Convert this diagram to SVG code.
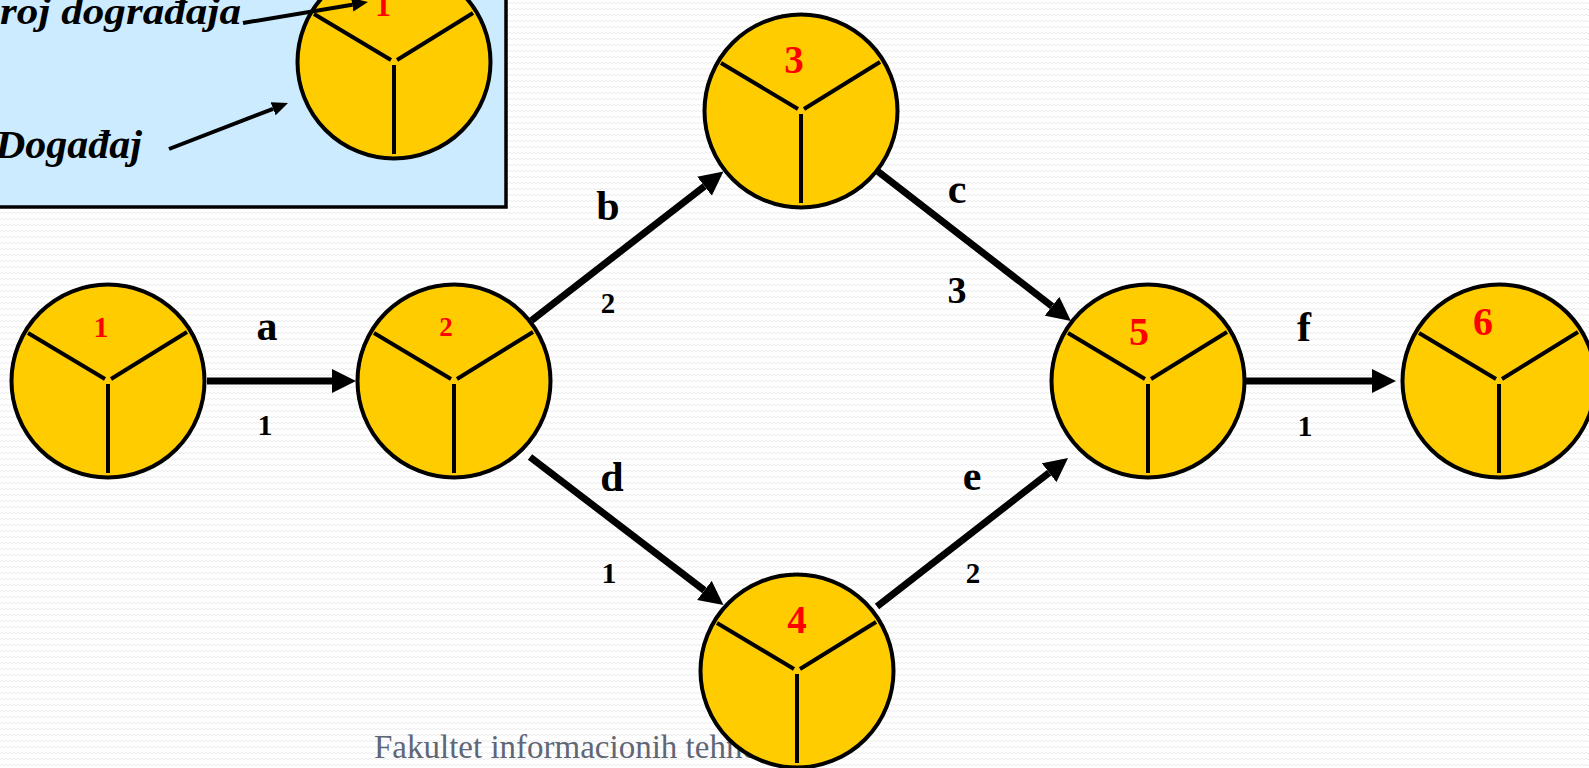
<svg xmlns="http://www.w3.org/2000/svg" width="1589" height="768" viewBox="0 0 1589 768">
  <defs>
    <!-- faint zigzag paper texture -->
    <pattern id="zigzag" width="8" height="6" patternUnits="userSpaceOnUse">
      <rect width="8" height="6" fill="#FFFFFF"/>
      <path d="M0,4 L2,2 L4,4 L6,2 L8,4" fill="none" stroke="#ECECEC" stroke-width="1"/>
    </pattern>
    <marker id="head" viewBox="0 0 24 24" refX="0" refY="12" markerWidth="24" markerHeight="24" markerUnits="userSpaceOnUse" orient="auto">
      <path d="M0,0 L24,12 L0,24 Z" fill="#000"/>
    </marker>
    <marker id="headSmall" viewBox="0 0 16 14" refX="0" refY="7" markerWidth="16" markerHeight="14" markerUnits="userSpaceOnUse" orient="auto">
      <path d="M0,0 L16,7 L0,14 Z" fill="#000"/>
    </marker>
    <!-- event circle with its three dividing spokes -->
    <g id="event">
      <circle cx="0" cy="0" r="96.5" fill="#FFCC00" stroke="#000" stroke-width="4"/>
      <path d="M-3,-2 L-80,-48 M3,-2 L79,-49 M0,3 L0,92" stroke="#000" stroke-width="4" fill="none"/>
    </g>
  </defs>
  <style>
    .conn { stroke: #000; stroke-width: 7; fill: none; marker-end: url(#head); }
    .legendArrow { stroke: #000; stroke-width: 4; fill: none; marker-end: url(#headSmall); }
    .num { font-family: "Liberation Serif", "DejaVu Serif", serif; font-weight: bold; fill: #FF0000; text-anchor: middle; }
    .lbl { font-family: "Liberation Serif", "DejaVu Serif", serif; font-weight: bold; fill: #000; text-anchor: middle; }
    .legendText { font-family: "Liberation Serif", "DejaVu Serif", serif; font-weight: bold; font-style: italic; fill: #000; }
    .footer { font-family: "Liberation Serif", "DejaVu Serif", serif; fill: #5F6675; }
  </style>

  <rect x="0" y="0" width="1589" height="768" fill="url(#zigzag)"/>

  <!-- footer line, partly hidden behind event 4 -->
  <text class="footer" x="374" y="758" font-size="33">Fakultet informacionih tehnologija</text>

  <!-- legend -->
  <g id="legend">
    <rect x="-10" y="-10" width="516" height="217" fill="#CCEBFF" stroke="#000" stroke-width="3.5"/>
    <use href="#event" x="394" y="62"/>
    <text class="num" x="383" y="16" font-size="32">1</text>
    <text class="legendText" x="0" y="24" font-size="37" textLength="241" lengthAdjust="spacingAndGlyphs">roj dograđaja</text>
    <text class="legendText" x="-5" y="158" font-size="40" textLength="147" lengthAdjust="spacingAndGlyphs">Događaj</text>
    <line class="legendArrow" x1="243" y1="23" x2="352.2" y2="4.7"/>
    <line class="legendArrow" x1="169" y1="149" x2="273.1" y2="108.8"/>
  </g>

  <!-- activities -->
  <g id="connectors">
    <line class="conn" x1="207" y1="381" x2="332" y2="381"/>
    <line class="conn" x1="531.5" y1="320.5" x2="704.5" y2="186.2"/>
    <line class="conn" x1="878" y1="171.5" x2="1052" y2="306.3"/>
    <line class="conn" x1="530" y1="457" x2="704.4" y2="590.4"/>
    <line class="conn" x1="877" y1="606.5" x2="1049.1" y2="472.7"/>
    <line class="conn" x1="1246" y1="381" x2="1372" y2="381"/>

    <text class="lbl" x="267" y="340" font-size="42">a</text>
    <text class="lbl" x="265" y="435" font-size="30">1</text>
    <text class="lbl" x="608" y="220" font-size="42">b</text>
    <text class="lbl" x="608" y="313" font-size="29">2</text>
    <text class="lbl" x="957" y="303" font-size="38">3</text>
    <text class="lbl" x="957" y="203" font-size="42">c</text>
    <text class="lbl" x="612" y="491" font-size="42">d</text>
    <text class="lbl" x="609" y="583" font-size="30">1</text>
    <text class="lbl" x="972" y="490" font-size="42">e</text>
    <text class="lbl" x="973" y="583" font-size="29">2</text>
    <text class="lbl" x="1304" y="341" font-size="42">f</text>
    <text class="lbl" x="1305" y="436" font-size="30">1</text>
  </g>

  <!-- events -->
  <g id="node1">
    <use href="#event" x="108" y="381"/>
    <text class="num" x="101" y="337" font-size="30">1</text>
  </g>
  <g id="node2">
    <use href="#event" x="454" y="381"/>
    <text class="num" x="446" y="336" font-size="27">2</text>
  </g>
  <g id="node3">
    <use href="#event" x="801" y="111"/>
    <text class="num" x="794" y="73" font-size="39">3</text>
  </g>
  <g id="node4">
    <use href="#event" x="797" y="671"/>
    <text class="num" x="797" y="633" font-size="39">4</text>
  </g>
  <g id="node5">
    <use href="#event" x="1148" y="381"/>
    <text class="num" x="1139" y="345" font-size="40">5</text>
  </g>
  <g id="node6">
    <use href="#event" x="1499" y="381"/>
    <text class="num" x="1483" y="335" font-size="40">6</text>
  </g>
</svg>
